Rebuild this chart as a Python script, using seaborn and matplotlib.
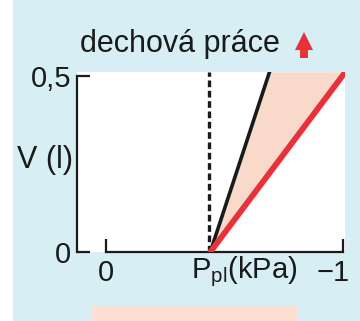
import matplotlib
matplotlib.use('Agg')
import matplotlib.pyplot as plt
import matplotlib.transforms as mtransforms
from matplotlib.patches import Rectangle
import seaborn as sns

# data (pressure in kPa, volume in litres)
volume = [0.0, 0.512]
p_normal = [-0.44, -0.69]   # black line
p_work = [-0.44, -1.01]     # red line
p_rest = -0.435             # dashed vertical
x_ticks = [0, -1]
x_ticklabels = ['0', '\u22121']
y_ticks = [0, 0.5]
y_ticklabels = ['0', '0,5']

bg = '#d6eef4'
red = '#e8323a'
pink = '#f8d9ca'

sns.set_style('ticks')
plt.rcParams['font.family'] = ['Liberation Sans', 'DejaVu Sans']

fig = plt.figure(figsize=(3.6, 3.21), dpi=100, facecolor=bg)
W, H = 360, 321
fig.patches.append(Rectangle((0, 0), 13 / W, 1, transform=fig.transFigure,
                             facecolor='white', edgecolor='none', zorder=0))
fig.patches.append(Rectangle((92 / W, 0), (298 - 92) / W, 16 / H, transform=fig.transFigure,
                             facecolor='#fbe0d3', edgecolor='none', zorder=0))

ax = fig.add_axes([77 / W, 1 - 252 / H, (345 - 77) / W, (252 - 72) / H])
ax.set_facecolor('white')

# shaded work area between the two curves
ax.fill_betweenx(volume, p_normal, p_work, color=pink, lw=0, zorder=1)
sns.lineplot(x=p_normal, y=volume, color='#1a1a1a', lw=2.6, sort=False, ax=ax, zorder=3)
sns.lineplot(x=p_work, y=volume, color=red, lw=4.2, sort=False, ax=ax, zorder=4)
ax.plot([p_rest, p_rest], [0, volume[1]], color='#1a1a1a', lw=2.4,
        ls=(0, (2.0, 1.1)), zorder=2)

ax.set_xlim(0.122, -1.008)
ax.set_ylim(0, 0.5114)

for s in ['top', 'right']:
    ax.spines[s].set_visible(False)
ax.spines['left'].set_bounds(0, 0.5)
ax.spines['bottom'].set_bounds(0, -1)
for s in ['left', 'bottom']:
    ax.spines[s].set_linewidth(1.6)
    ax.spines[s].set_color('#1a1a1a')

ax.set_xticks(x_ticks, x_ticklabels)
ax.set_yticks(y_ticks, y_ticklabels)
ax.tick_params(direction='in', length=9.4, width=1.6, color='#1a1a1a',
               labelsize=21, labelcolor='#1a1a1a')
ax.tick_params(axis='y', pad=4)
ax.tick_params(axis='x', pad=5)
lab = ax.get_xticklabels()[1]
lab.set_ha('right')
lab.set_transform(lab.get_transform() + mtransforms.ScaledTranslation(7 / 100, 0, fig.dpi_scale_trans))

ax.set_ylabel('V (l)', rotation=0, ha='right', va='center', fontsize=22, color='#1a1a1a')
ax.yaxis.set_label_coords(-0.015, 0.51)
ax.set_xlabel(r'P$_\mathregular{pl}$(kPa)', ha='center', va='center', fontsize=21, color='#1a1a1a')
ax.xaxis.set_label_coords(0.625, -0.11)

fig.text(80 / W, 1 - 52 / H, 'dechová práce', ha='left', va='baseline',
         fontsize=22, color='#1a1a1a')
ax.annotate('', xy=(304 / W, 1 - 32 / H), xytext=(304 / W, 1 - 58 / H),
            xycoords='figure fraction', textcoords='figure fraction',
            arrowprops=dict(arrowstyle='simple,head_length=0.5,head_width=0.5,tail_width=0.22',
                            mutation_scale=26, color=red, lw=0, shrinkA=0, shrinkB=0))

fig.savefig('out.png', dpi=100, facecolor=bg)
